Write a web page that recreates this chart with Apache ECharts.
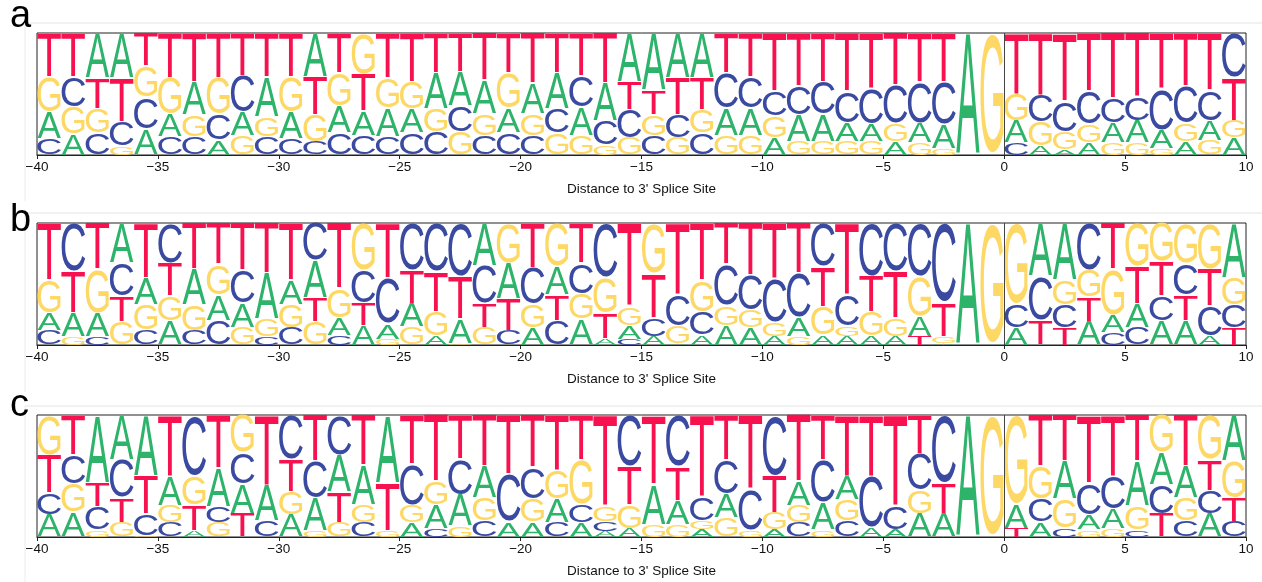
<!DOCTYPE html>
<html>
<head>
<meta charset="utf-8">
<script src="https://cdn.jsdelivr.net/npm/echarts@6/dist/echarts.min.js"></script>
<style>
  html, body { margin: 0; padding: 0; background: #fff; }
  #chart { width: 1262px; height: 582px; }
</style>
</head>
<body>
<div id="chart"></div>
<script>
// positions -40 .. 9, each column spans [pos, pos + 1]
var positions = [-40,-39,-38,-37,-36,-35,-34,-33,-32,-31,-30,-29,-28,-27,-26,-25,-24,-23,-22,-21,
                 -20,-19,-18,-17,-16,-15,-14,-13,-12,-11,-10,-9,-8,-7,-6,-5,-4,-3,-2,-1,
                 0,1,2,3,4,5,6,7,8,9];
var panelNames = ['a', 'b', 'c'];
var axisTitle = "Distance to 3' Splice Site";

// letter frequencies, panel a
var aA = [.22,.17,.37,.37,.21,.18,.27,.12,.19,.33,.22,.36,.22,.20,.23,.20,.29,.28,.27,.20,
          .25,.29,.23,.31,.40,.47,.37,.37,.22,.22,.14,.22,.22,.15,.14,.11,.16,.20,1,0,
          .18,.07,.04,.10,.16,.18,.15,.11,.16,.14];
var aC = [.13,.25,.18,.20,.26,.15,.15,.21,.30,.15,.13,.11,.18,.16,.15,.18,.19,.22,.16,.18,
          .16,.20,.26,.20,.23,.16,.19,.18,.29,.26,.20,.23,.27,.26,.29,.31,.34,.35,0,0,
          .10,.22,.25,.27,.20,.19,.34,.30,.25,.37];
var aG = [.29,.22,.20,.07,.26,.30,.18,.30,.16,.16,.29,.22,.27,.34,.25,.22,.19,.19,.18,.29,
          .18,.18,.16,.08,.14,.17,.14,.19,.16,.16,.18,.11,.11,.11,.11,.15,.10,.05,0,1,
          .22,.20,.15,.15,.10,.10,.05,.15,.12,.14];
var aT = [.36,.36,.25,.36,.27,.37,.40,.37,.35,.36,.36,.31,.33,.30,.37,.40,.33,.32,.39,.33,
          .41,.33,.35,.41,.23,.20,.30,.26,.33,.36,.48,.44,.40,.48,.46,.43,.40,.40,0,0,
          .50,.51,.56,.48,.54,.53,.46,.44,.47,.35];

// panel b
var bA = [.14,.19,.19,.33,.22,.20,.30,.21,.20,.38,.20,.30,.14,.16,.12,.19,.07,.20,.35,.29,
          .14,.23,.21,.05,.11,.07,.01,.08,.16,.14,.07,.15,.08,.07,.07,.07,.16,.01,1,0,
          .14,.44,.47,.19,.14,.20,.20,.20,.07,.45];
var bC = [.12,.40,.07,.27,.12,.33,.12,.20,.27,.07,.14,.31,.08,.27,.38,.39,.40,.44,.31,.12,
          .30,.20,.25,.45,.05,.15,.26,.19,.34,.29,.36,.37,.36,.26,.44,.40,.44,.66,0,0,
          .19,.36,.19,.39,.10,.14,.20,.26,.25,.19];
var bG = [.27,.07,.36,.19,.21,.20,.21,.25,.14,.14,.19,.19,.24,.39,.05,.15,.20,.01,.14,.33,
          .19,.36,.21,.29,.15,.42,.14,.26,.16,.14,.11,.07,.23,.08,.20,.15,.33,.06,0,1,
          .67,0,.20,.22,.38,.36,.32,.33,.38,.22];
var bT = [.47,.34,.38,.21,.45,.27,.38,.34,.39,.41,.47,.20,.54,.18,.45,.27,.33,.35,.20,.26,
          .37,.21,.33,.21,.69,.36,.59,.47,.34,.43,.46,.41,.33,.59,.29,.38,.07,.27,0,0,
          0,.20,.14,.20,.38,.30,.28,.21,.30,.14];

// panel c
var cA = [.18,.20,.56,.37,.50,.24,.05,.31,.24,.29,.18,.27,.30,.33,.56,.12,.19,.26,.26,.12,
          .12,.19,.12,.05,.07,.33,.20,.06,.19,0,.06,.19,.22,.19,.07,.06,.19,.19,1,0,
          .19,.12,.31,.12,.16,.37,.26,.26,.19,.38];
var cC = [.18,.24,.19,.31,.18,.12,.50,.13,.26,.13,.37,.30,.33,.12,0,.34,.07,.30,.13,.39,
          .26,.12,.14,.08,.43,0,.43,.19,.28,.34,.50,.12,.35,.13,.43,.19,.30,.56,0,0,
          0,.19,.07,.26,.27,.06,.24,.13,.19,.13];
var cG = [.33,.23,.06,.12,.01,.14,.24,.12,.31,0,.19,.05,.12,.14,.05,.14,.19,.09,.19,0,
          .19,.23,.37,.12,.19,.10,.10,.07,.16,.05,.14,.14,.06,.18,0,0,.19,0,0,1,
          .74,.27,.24,.06,.07,.19,.31,.19,.37,.30];
var cT = [.31,.33,.19,.20,.31,.50,.21,.44,.19,.58,.26,.38,.25,.41,.39,.40,.55,.37,.42,.49,
          .43,.46,.37,.75,.31,.57,.27,.68,.37,.61,.30,.55,.37,.50,.50,.75,.32,.25,0,0,
          .07,.42,.38,.56,.50,.38,.19,.42,.25,.19];

var panels = [[aA, aC, aG, aT], [bA, bC, bG, bT], [cA, cC, cG, cT]];

var LETTERS = ['A', 'C', 'G', 'T'];
var COLORS = ['#2db36a', '#3b4aa1', '#fdd865', '#f7124f'];
// glyph ink box of Liberation Sans (em units)
var INK_W = [0.670, 0.630, 0.670, 0.566];
var INK_H = [0.716, 0.740, 0.740, 0.716];
var INK_DX = [0, -0.004, 0.0055, 0];
var INK_DY = 0.065;
var FS = 100;
var FONT = 'Liberation Sans';

var gridTops = [33, 223, 415];
var gridH = 122;

function stackColumns(freqs) {
    var out = [];
    for (var i = 0; i < positions.length; i++) {
        var col = [0, 1, 2, 3].map(function (k) { return { k: k, v: freqs[k][i] }; });
        var sum = col.reduce(function (s, c) { return s + c.v; }, 0);
        col.sort(function (p, q) { return p.v - q.v; });
        var y = 0;
        col.forEach(function (c) {
            var h = c.v / sum;
            if (h > 0.004) out.push([positions[i] + 0.5, y, y + h, c.k]);
            y += h;
        });
    }
    return out;
}

function renderLetter(params, api) {
    var x = api.value(0), y0 = api.value(1), y1 = api.value(2), k = api.value(3);
    var p0 = api.coord([x - 0.485, y1]);
    var p1 = api.coord([x + 0.485, y0]);
    var w = p1[0] - p0[0], h = p1[1] - p0[1];
    if (h < 0.4) return;
    return {
        type: 'text',
        x: (p0[0] + p1[0]) / 2,
        y: (p0[1] + p1[1]) / 2,
        scaleX: w / (INK_W[k] * FS),
        scaleY: h / (INK_H[k] * FS),
        style: {
            text: LETTERS[k],
            x: INK_DX[k] * FS,
            y: INK_DY * FS,
            fontSize: FS,
            fontFamily: FONT,
            fill: COLORS[k],
            align: 'center',
            verticalAlign: 'middle'
        }
    };
}

var grids = [], xAxes = [], yAxes = [], series = [], graphics = [];
panels.forEach(function (freqs, p) {
    grids.push({ left: 37, right: 16, top: gridTops[p], height: gridH,
                 show: true, borderColor: '#222', borderWidth: 1 });
    xAxes.push({
        gridIndex: p, type: 'value', min: -40, max: 10, interval: 5,
        name: axisTitle, nameLocation: 'middle', nameGap: 27,
        nameTextStyle: { fontFamily: FONT, fontSize: 13.5, color: '#111' },
        axisLine: { lineStyle: { color: '#222', width: 1 } },
        axisTick: { length: 4, lineStyle: { color: '#222' } },
        splitLine: { show: false },
        axisLabel: {
            fontFamily: FONT, fontSize: 13.5, color: '#111', margin: 5,
            formatter: function (v) { return String(v).replace('-', '\u2212'); }
        }
    });
    yAxes.push({ gridIndex: p, type: 'value', min: 0, max: 1, show: false });
    series.push({
        type: 'custom',
        xAxisIndex: p, yAxisIndex: p,
        renderItem: renderLetter,
        data: stackColumns(freqs),
        clip: false,
        silent: true,
        markLine: {
            silent: true, symbol: 'none', label: { show: false },
            lineStyle: { color: '#444', width: 1, type: 'solid' },
            data: [{ xAxis: 0 }]
        }
    });
});

// faint frames round each sub-figure
var frameTops = [23, 213, 406];
var frameBottoms = [201, 392, 582];
frameTops.forEach(function (t, p) {
    graphics.push({ type: 'line', shape: { x1: 25, y1: t, x2: 1262, y2: t },
                    style: { stroke: '#e4e4e4', lineWidth: 1 }, silent: true });
    graphics.push({ type: 'line', shape: { x1: 25, y1: t, x2: 25, y2: frameBottoms[p] },
                    style: { stroke: '#ececec', lineWidth: 1 }, silent: true });
});
var labelY = [15, 219, 404];
panelNames.forEach(function (n, p) {
    graphics.push({ type: 'text', left: 10, top: labelY[p] - 17,
                    style: { text: n, fontFamily: FONT, fontSize: 38, fill: '#000' } });
});

var chart = echarts.init(document.getElementById('chart'));
chart.setOption({
    animation: false,
    grid: grids,
    xAxis: xAxes,
    yAxis: yAxes,
    series: series,
    graphic: graphics
});
</script>
</body>
</html>
